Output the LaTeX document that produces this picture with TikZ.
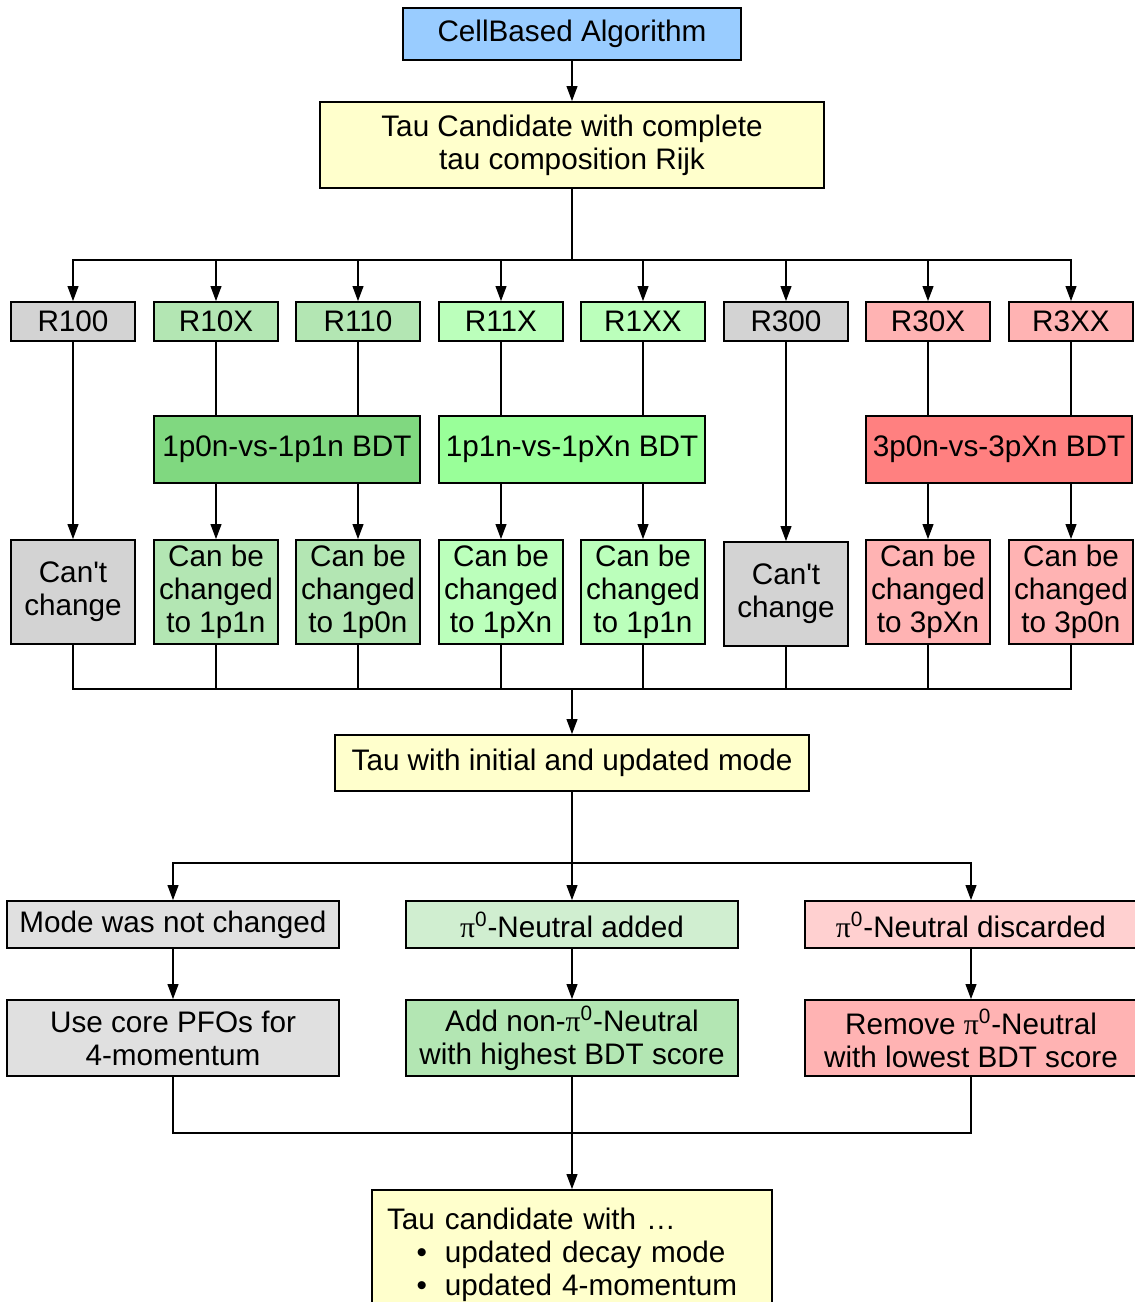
\documentclass[tikz,border=0pt]{standalone}
\usepackage{fontspec}
\setmainfont{Liberation Sans}
\newfontfamily\pifont{Liberation Serif}
\usetikzlibrary{arrows.meta}

\newcommand{\pizero}{{\pifont π}\textsuperscript{0}}

\begin{document}
\begin{tikzpicture}[x=0.02cm, y=-0.02cm,
  box/.style={draw=black, line width=1.1pt, inner sep=2pt, align=center,
    font=\fontsize{16.9}{18.7}\selectfont},
  rbox/.style={box, minimum width=2.48cm, minimum height=0.78cm},
  bdtbox/.style={box, minimum width=5.32cm, minimum height=1.34cm},
  resbox/.style={box, minimum width=2.48cm, minimum height=2.08cm},
  rowbox/.style={box, minimum width=6.64cm, minimum height=0.94cm},
  stepbox/.style={box, minimum width=6.64cm, minimum height=1.52cm},
  link/.style={draw=black, line width=0.6pt},
  flow/.style={-{Triangle[length=0.3cm,width=0.22cm]}}]

% Colori
\definecolor{colCell}{HTML}{99CCFF}
\definecolor{colTau}{HTML}{FFFFCC}
\definecolor{colGrey}{HTML}{D3D3D3}
\definecolor{colGreyL}{HTML}{E0E0E0}
\definecolor{colGrA}{HTML}{B3E6B3}
\definecolor{colGrB}{HTML}{BBFFBB}
\definecolor{colRed}{HTML}{FFB3B3}
\definecolor{colBdtA}{HTML}{80D880}
\definecolor{colBdtB}{HTML}{99FF99}
\definecolor{colBdtC}{HTML}{FF8080}
\definecolor{colGrL}{HTML}{D0EED0}
\definecolor{colRedL}{HTML}{FFD0D0}

\useasboundingbox (0,0) rectangle (1135,1302);

% Inizio
\node[box, fill=colCell, minimum width=6.76cm, minimum height=1.04cm] (cell) at (572,34) {CellBased Algorithm};
\node[box, fill=colTau, minimum width=10.08cm, minimum height=1.72cm] (cand) at (572,145) {Tau Candidate with complete\\tau composition Rijk};

% Modi iniziali
\node[rbox, fill=colGrey] (r100) at (73,321.5) {R100};
\node[rbox, fill=colGrA] (r10x) at (216,321.5) {R10X};
\node[rbox, fill=colGrA] (r110) at (358,321.5) {R110};
\node[rbox, fill=colGrB] (r11x) at (501,321.5) {R11X};
\node[rbox, fill=colGrB] (r1xx) at (643,321.5) {R1XX};
\node[rbox, fill=colGrey] (r300) at (786,321.5) {R300};
\node[rbox, fill=colRed] (r30x) at (928,321.5) {R30X};
\node[rbox, fill=colRed] (r3xx) at (1071,321.5) {R3XX};

% BDT
\node[bdtbox, fill=colBdtA] (bdtA) at (287,449.5) {1p0n-vs-1p1n BDT};
\node[bdtbox, fill=colBdtB] (bdtB) at (572,449.5) {1p1n-vs-1pXn BDT};
\node[bdtbox, fill=colBdtC] (bdtC) at (999,449.5) {3p0n-vs-3pXn BDT};

% Esiti
\node[resbox, fill=colGrey] (c100) at (73,592) {Can\textquotesingle t\\change};
\node[resbox, fill=colGrA] (c10x) at (216,592) {Can be\\changed\\to 1p1n};
\node[resbox, fill=colGrA] (c110) at (358,592) {Can be\\changed\\to 1p0n};
\node[resbox, fill=colGrB] (c11x) at (501,592) {Can be\\changed\\to 1pXn};
\node[resbox, fill=colGrB] (c1xx) at (643,592) {Can be\\changed\\to 1p1n};
\node[resbox, fill=colGrey] (c300) at (786,594) {Can\textquotesingle t\\change};
\node[resbox, fill=colRed] (c30x) at (928,592) {Can be\\changed\\to 3pXn};
\node[resbox, fill=colRed] (c3xx) at (1071,592) {Can be\\changed\\to 3p0n};

% Modo aggiornato
\node[box, fill=colTau, minimum width=9.5cm, minimum height=1.12cm] (init) at (572,763) {Tau with initial and updated mode};

\node[rowbox, fill=colGreyL] (mode) at (173,924.5) {Mode was not changed};
\node[rowbox, fill=colGrL] (added) at (572,924.5) {\pizero-Neutral added};
\node[rowbox, fill=colRedL] (disc) at (971,924.5) {\pizero-Neutral discarded};

\node[stepbox, fill=colGreyL] (use) at (173,1038) {Use core PFOs for\\4-momentum};
\node[stepbox, fill=colGrA] (addn) at (572,1038) {Add non-\pizero-Neutral\\with highest BDT score};
\node[stepbox, fill=colRed] (remove) at (971,1038) {Remove \pizero-Neutral\\with lowest BDT score};

% Risultato
\node[box, fill=colTau, minimum width=8cm, minimum height=2.6cm, text width=7.4cm, align=left] (final) at (572,1255)
  {Tau candidate with …\\
   \hspace*{1.0em}\textbullet\hspace{0.6em}updated decay mode\\
   \hspace*{1.0em}\textbullet\hspace{0.6em}updated 4-momentum};

% Collegamenti
\draw[link, flow] (cell) -- (cand);
\coordinate (busA) at (572,260);
\draw[link] (cand) -- (busA);
\draw[link, flow] (busA) -| (r100);
\draw[link, flow] (busA) -| (r10x);
\draw[link, flow] (busA) -| (r110);
\draw[link, flow] (busA) -| (r11x);
\draw[link, flow] (busA) -| (r1xx);
\draw[link, flow] (busA) -| (r300);
\draw[link, flow] (busA) -| (r30x);
\draw[link, flow] (busA) -| (r3xx);

\draw[link] (r10x) -- (r10x |- bdtA.north);
\draw[link] (r110) -- (r110 |- bdtA.north);
\draw[link] (r11x) -- (r11x |- bdtB.north);
\draw[link] (r1xx) -- (r1xx |- bdtB.north);
\draw[link] (r30x) -- (r30x |- bdtC.north);
\draw[link] (r3xx) -- (r3xx |- bdtC.north);

\draw[link, flow] (r100) -- (c100);
\draw[link, flow] (r10x |- bdtA.south) -- (c10x);
\draw[link, flow] (r110 |- bdtA.south) -- (c110);
\draw[link, flow] (r11x |- bdtB.south) -- (c11x);
\draw[link, flow] (r1xx |- bdtB.south) -- (c1xx);
\draw[link, flow] (r300) -- (c300);
\draw[link, flow] (r30x |- bdtC.south) -- (c30x);
\draw[link, flow] (r3xx |- bdtC.south) -- (c3xx);

\coordinate (busB) at (572,689);
\draw[link] (c100) |- (busB);
\draw[link] (c10x) |- (busB);
\draw[link] (c110) |- (busB);
\draw[link] (c11x) |- (busB);
\draw[link] (c1xx) |- (busB);
\draw[link] (c300) |- (busB);
\draw[link] (c30x) |- (busB);
\draw[link] (c3xx) |- (busB);
\draw[link, flow] (busB) -- (init);

\coordinate (busC) at (572,863);
\draw[link] (init) -- (busC);
\draw[link, flow] (busC) -| (mode);
\draw[link, flow] (busC) -- (added);
\draw[link, flow] (busC) -| (disc);

\draw[link, flow] (mode) -- (use);
\draw[link, flow] (added) -- (addn);
\draw[link, flow] (disc) -- (remove);

\coordinate (busD) at (572,1133);
\draw[link] (use) |- (busD);
\draw[link] (remove) |- (busD);
\draw[link, flow] (addn) -- (final);

\end{tikzpicture}
\end{document}
